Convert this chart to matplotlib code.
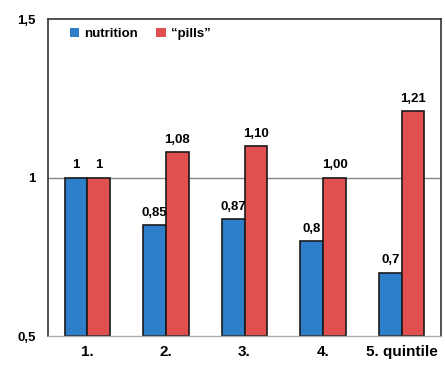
import matplotlib
matplotlib.use("Agg")
import matplotlib.pyplot as plt
from matplotlib.patches import Patch
import numpy as np

categories = ["1.", "2.", "3.", "4.", "5. quintile"]
nutrition = [1.0, 0.85, 0.87, 0.80, 0.70]
pills = [1.0, 1.08, 1.10, 1.00, 1.21]
nutrition_labels = ["1", "0,85", "0,87", "0,8", "0,7"]
pills_labels = ["1", "1,08", "1,10", "1,00", "1,21"]
ytick_vals = [0.5, 1.0, 1.5]
ytick_labels = ["0,5", "1", "1,5"]

plt.rcParams['font.family'] = ['Liberation Sans', 'DejaVu Sans']
fig = plt.figure(figsize=(4.45, 3.67), dpi=100)
ax = fig.add_axes([0.108, 0.084, 0.883, 0.864])

x = np.arange(len(categories))
w = 0.29
blue = "#2C7FC8"
red = "#E0504F"
ax.axhline(1.0, color="#888888", lw=1, zorder=1)
ax.bar(x - w/2, [v - 0.5 for v in nutrition], w, bottom=0.5, color=blue, edgecolor="#1a1a1a", lw=1.2, zorder=2)
ax.bar(x + w/2, [v - 0.5 for v in pills], w, bottom=0.5, color=red, edgecolor="#1a1a1a", lw=1.2, zorder=2)

for xi, v, t in zip(x - w/2, nutrition, nutrition_labels):
    ax.text(xi, v + 0.02, t, ha="center", va="bottom", fontsize=9.5, fontweight="bold")
for xi, v, t in zip(x + w/2, pills, pills_labels):
    ax.text(xi, v + 0.02, t, ha="center", va="bottom", fontsize=9.5, fontweight="bold")

ax.set_xlim(-0.5, 4.5)
ax.set_ylim(0.5, 1.5)
ax.set_yticks(ytick_vals)
ax.set_yticklabels(ytick_labels, fontsize=9.5, fontweight="bold")
ax.set_xticks(x)
ax.set_xticklabels(categories, fontsize=11, fontweight="bold")
ax.tick_params(axis="y", length=0, pad=9)
ax.tick_params(axis="x", length=0, pad=6)
for s in ["left", "top", "right"]:
    ax.spines[s].set_color("#333333")
    ax.spines[s].set_linewidth(1.2)
ax.spines["bottom"].set_color("#aaaaaa")
ax.spines["bottom"].set_linewidth(1)

handles = [Patch(facecolor=blue, edgecolor="none", label="nutrition"),
           Patch(facecolor=red, edgecolor="none", label="\u201cpills\u201d")]
ax.legend(handles=handles, loc="upper left", frameon=False, ncol=2,
          prop={"weight": "bold", "size": 9.5},
          handlelength=0.7, handleheight=0.7, handletextpad=0.4, columnspacing=1.4,
          bbox_to_anchor=(0.025, 1.01))

fig.savefig("out.png", dpi=100)
